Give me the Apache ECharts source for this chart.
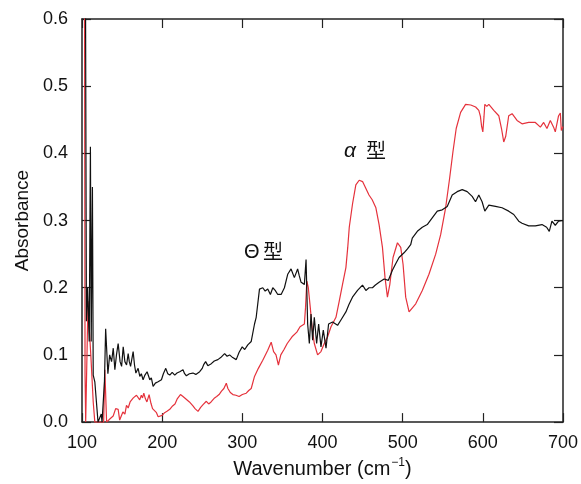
<!DOCTYPE html>
<html>
<head>
<meta charset="utf-8">
<script src="https://cdn.jsdelivr.net/npm/echarts@6/dist/echarts.min.js"></script>
<style>
  html, body { margin: 0; padding: 0; background: #fff; }
  #chart { width: 581px; height: 484px; }
</style>
</head>
<body>
<div id="chart"></div>
<script>
// tick values
const xTicks = [100, 200, 300, 400, 500, 600, 700]
const yTicks = [0, 0.1, 0.2, 0.3, 0.4, 0.5, 0.6]

// theta form (black), [wavenumber, absorbance]
const thetaSpectrum = [
  [100, 0.8], [104, 0.8], [105.5, 0.15], [107, 0.2], [109, 0.12], [110.5, 0.41], [111.5, 0.12],
  [113, 0.35], [114, 0.07], [116, 0.06], [118, 0.03], [120, 0], [122, 0], [124, 0.012], [125, 0],
  [127, 0], [128, 0.06], [129.5, 0.139], [132.3, 0.072], [134.5, 0.1], [136.9, 0.09], [139, 0.11],
  [141, 0.078], [143, 0.1], [145.1, 0.117], [147.5, 0.09], [149.4, 0.083], [151.4, 0.112],
  [153.5, 0.09], [155.6, 0.085], [157.6, 0.102], [159, 0.09], [160.6, 0.083], [163.8, 0.105],
  [165.5, 0.085], [167.2, 0.073], [170, 0.08], [172.1, 0.068], [174, 0.072], [176.2, 0.063],
  [178.5, 0.07], [181.2, 0.075], [184.6, 0.063], [186.5, 0.066], [188.7, 0.053], [191.5, 0.058],
  [194.9, 0.06], [199.1, 0.063], [201.5, 0.072], [204.5, 0.08], [207, 0.072], [209.5, 0.07],
  [212.5, 0.074], [215.7, 0.07], [218.5, 0.073], [221.9, 0.075], [226, 0.078], [228, 0.072],
  [230.2, 0.069], [234, 0.072], [238.4, 0.073], [242, 0.071], [246.8, 0.075], [250, 0.08],
  [252, 0.086], [254.2, 0.09], [257, 0.084], [261.3, 0.087], [265, 0.091], [269.5, 0.093],
  [273, 0.096], [277.9, 0.102], [281, 0.098], [284.1, 0.1], [288, 0.096], [292.4, 0.093],
  [296, 0.104], [299.9, 0.112], [303, 0.108], [306.8, 0.115], [311.1, 0.12], [315.2, 0.146],
  [317.3, 0.156], [321.4, 0.198], [325.5, 0.2], [328.5, 0.195], [331.7, 0.198], [335, 0.19],
  [338, 0.2], [341, 0.196], [344.2, 0.19], [348.4, 0.19], [352.5, 0.2], [356.6, 0.22],
  [360.8, 0.228], [364.9, 0.215], [369, 0.228], [371, 0.218], [373.3, 0.208], [377.4, 0.205],
  [379.5, 0.242], [381.5, 0.146], [383.6, 0.117], [385.7, 0.161], [387.7, 0.122], [389.8, 0.156],
  [392.7, 0.117], [395.2, 0.146], [398.1, 0.112], [401, 0.137], [404.4, 0.11], [407.6, 0.146],
  [412.6, 0.149], [418.8, 0.144], [423, 0.152], [429.2, 0.164], [433, 0.175], [437.4, 0.186],
  [443.7, 0.196], [449.9, 0.204], [454.1, 0.196], [458, 0.2], [462.3, 0.2], [466, 0.204],
  [470.6, 0.208], [476.9, 0.213], [482.2, 0.211], [487.2, 0.226], [491, 0.235], [495.5, 0.245],
  [501.7, 0.252], [506, 0.258], [510, 0.264], [512, 0.274], [518.3, 0.284], [524.5, 0.29],
  [530.7, 0.294], [536.9, 0.304], [543.2, 0.314], [549.4, 0.316], [555.6, 0.321], [561.8, 0.338],
  [568, 0.343], [574.3, 0.346], [580.5, 0.343], [586.7, 0.336], [590.9, 0.328], [595, 0.338],
  [599.1, 0.328], [602.5, 0.314], [607.5, 0.323], [615.8, 0.321], [624, 0.319], [632.3, 0.314],
  [638.6, 0.309], [644.8, 0.299], [648.9, 0.296], [657.2, 0.292], [665.5, 0.292], [673.8, 0.294],
  [679.6, 0.29], [682.9, 0.284], [686.2, 0.299], [690.4, 0.293], [694.5, 0.299], [698.3, 0.3],
  [700, 0.3]
]

// alpha form (red), [wavenumber, absorbance]
const alphaSpectrum = [
  [100, 0.8], [103, 0.8], [103.8, 0.07], [104.6, 0], [106, 0], [107.5, 0.18], [109, 0.14],
  [111, 0.1], [114, 0.03], [116, 0], [127, 0], [128.5, 0.078], [130.7, 0], [135, 0.005],
  [138.9, 0.009], [142, 0.02], [145.1, 0.019], [147, 0.003], [149.4, 0.004], [151, 0.015],
  [153.5, 0.012], [155.5, 0.025], [157.6, 0.021], [160, 0.03], [162, 0.028], [164, 0.036],
  [166, 0.034], [168, 0.04], [170, 0.038], [172, 0.033], [174, 0.04], [175.5, 0.036],
  [177.1, 0.043], [179, 0.035], [181, 0.03], [183.7, 0.041], [186, 0.028], [188, 0.02],
  [190, 0.018], [192.9, 0.014], [195, 0.008], [197, 0.006], [200, 0.01], [203, 0.014],
  [206, 0.016], [209.5, 0.019], [213, 0.024], [216, 0.027], [219, 0.035], [222.8, 0.041],
  [226, 0.038], [230, 0.034], [234, 0.03], [238.4, 0.024], [241, 0.02], [244.7, 0.016],
  [248, 0.022], [251, 0.026], [255.1, 0.031], [258, 0.027], [261, 0.03], [265.4, 0.036],
  [268, 0.038], [271, 0.041], [274, 0.046], [277, 0.05], [280, 0.058], [282, 0.05], [285, 0.044],
  [288.2, 0.041], [292, 0.04], [296, 0.038], [300, 0.041], [304.9, 0.043], [308, 0.047],
  [311.1, 0.05], [315.2, 0.068], [320, 0.08], [325.5, 0.092], [331.7, 0.107], [336, 0.119],
  [339, 0.105], [342, 0.1], [345, 0.085], [348, 0.1], [352, 0.108], [356, 0.117], [362, 0.127],
  [368, 0.134], [372, 0.142], [377.4, 0.146], [378.8, 0.17], [380.5, 0.21], [382.3, 0.2],
  [384.8, 0.17], [387.3, 0.137], [389.8, 0.117], [393.9, 0.1], [398.1, 0.105], [402.2, 0.117],
  [406.4, 0.127], [410.6, 0.142], [416.8, 0.156], [420.9, 0.18], [425, 0.205], [429.2, 0.23],
  [431.5, 0.26], [433.4, 0.29], [437.5, 0.325], [441.6, 0.353], [445.8, 0.36], [450, 0.358],
  [454, 0.348], [458, 0.338], [462, 0.331], [466.6, 0.319], [470.6, 0.294], [474.8, 0.26],
  [478, 0.215], [481, 0.186], [484, 0.205], [488, 0.245], [493.5, 0.267], [497.6, 0.26],
  [500.5, 0.235], [503.8, 0.186], [508, 0.164], [510, 0.164], [516.3, 0.176], [524.5, 0.196],
  [532.8, 0.22], [541.2, 0.25], [547.4, 0.279], [553.6, 0.319], [558.6, 0.363], [562.7, 0.402],
  [566.8, 0.437], [572.3, 0.461], [578.5, 0.473], [585, 0.472], [591, 0.469], [595, 0.464],
  [597, 0.455], [598.5, 0.44], [600, 0.432], [601.5, 0.455], [602.5, 0.473], [605, 0.47],
  [607.5, 0.473], [613.7, 0.464], [619.9, 0.456], [623.3, 0.437], [626.1, 0.417], [628.5, 0.425],
  [632.3, 0.456], [636.5, 0.459], [642.7, 0.449], [648.9, 0.444], [657.2, 0.446], [665.5, 0.446],
  [671.8, 0.439], [675.9, 0.446], [680, 0.437], [684.2, 0.449], [688.3, 0.439], [690.4, 0.432],
  [694.5, 0.456], [696.7, 0.46], [697.9, 0.434], [700, 0.44]
]

const fontFamily = '"Liberation Sans", Arial, sans-serif'
const cjkFont = '"Noto Sans CJK JP", sans-serif'
const frameColor = '#222'

const chart = echarts.init(document.getElementById('chart'), null, { renderer: 'canvas' })

function frameAxis(extra) {
  return Object.assign({
    axisLine: { show: true, onZero: false, lineStyle: { color: frameColor, width: 1.5 } },
    axisTick: { show: true, inside: true, length: 9, lineStyle: { color: frameColor, width: 1.2 } },
    splitLine: { show: false }
  }, extra)
}

function label(text, left, top, style) {
  return {
    type: 'text', left, top, silent: true,
    style: Object.assign({ text, fontSize: 20, fontFamily: cjkFont, fill: '#111' }, style)
  }
}

const option = {
  animation: false,
  backgroundColor: '#fff',
  grid: { left: 82, right: 17, top: 19, bottom: 58, containLabel: false },
  xAxis: [
    frameAxis({
      type: 'value',
      min: xTicks[0],
      max: xTicks[xTicks.length - 1],
      interval: 100,
      position: 'bottom',
      name: '{a|Wavenumber (cm}{s|−1}{a|)}',
      nameLocation: 'middle',
      nameGap: 31,
      nameTextStyle: {
        rich: {
          a: { fontSize: 20, fontFamily, color: '#111', verticalAlign: 'bottom' },
          s: { fontSize: 12, fontFamily, color: '#111', verticalAlign: 'bottom', padding: [0, 0, 10, 1] }
        }
      },
      axisLabel: { fontSize: 18, fontFamily, color: '#111', margin: 12 }
    }),
    frameAxis({
      type: 'value',
      min: xTicks[0],
      max: xTicks[xTicks.length - 1],
      interval: 100,
      position: 'top',
      axisLabel: { show: false }
    })
  ],
  yAxis: [
    frameAxis({
      type: 'value',
      min: yTicks[0],
      max: yTicks[yTicks.length - 1],
      interval: 0.1,
      position: 'left',
      name: 'Absorbance',
      nameLocation: 'middle',
      nameRotate: 90,
      nameGap: 49,
      nameTextStyle: { fontSize: 19, fontFamily, color: '#111' },
      axisLabel: {
        fontSize: 18, fontFamily, color: '#111', margin: 14,
        formatter: v => v.toFixed(1)
      }
    }),
    frameAxis({
      type: 'value',
      min: yTicks[0],
      max: yTicks[yTicks.length - 1],
      interval: 0.1,
      position: 'right',
      axisLabel: { show: false }
    })
  ],
  graphic: [
    label('α', 344, 141, { fontFamily, fontStyle: 'italic', fontSize: 21 }),
    label('型', 366, 140),
    label('Θ', 244, 242, { fontFamily, fontSize: 20 }),
    label('型', 263, 241)
  ],
  series: [
    {
      name: 'α型',
      type: 'line',
      data: alphaSpectrum,
      showSymbol: false,
      clip: true,
      lineStyle: { color: '#e5323c', width: 1.2 },
      z: 2
    },
    {
      name: 'Θ型',
      type: 'line',
      data: thetaSpectrum,
      showSymbol: false,
      clip: true,
      lineStyle: { color: '#111', width: 1.2 },
      z: 3
    }
  ]
}

chart.setOption(option)
</script>
</body>
</html>
